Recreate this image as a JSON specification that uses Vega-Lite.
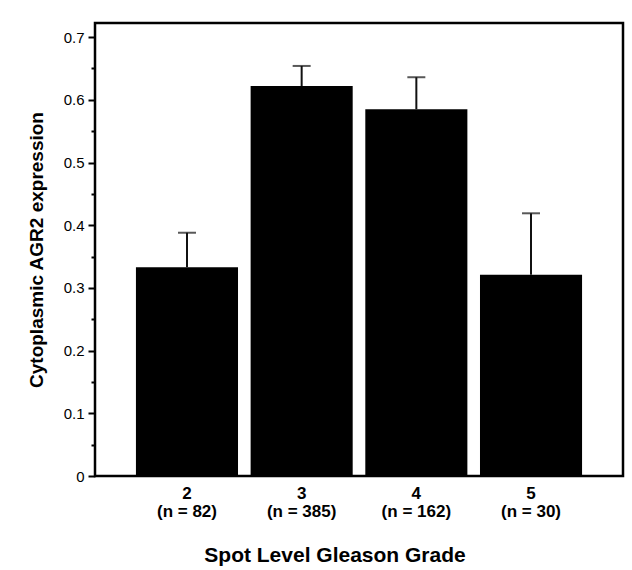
{
  "$schema": "https://vega.github.io/schema/vega-lite/v6.json",
  "width": 528,
  "height": 453,
  "autosize": "none",
  "padding": {"left": 95, "top": 23, "right": 9, "bottom": 94},
  "background": "white",
  "config": {
    "view": {"stroke": "black", "strokeWidth": 2.5},
    "font": "Liberation Sans"
  },
  "data": {
    "values": [
      {"label": "2 (n = 82)", "mean": 0.333, "upper": 0.388},
      {"label": "3 (n = 385)", "mean": 0.622, "upper": 0.654},
      {"label": "4 (n = 162)", "mean": 0.585, "upper": 0.636},
      {"label": "5 (n = 30)", "mean": 0.321, "upper": 0.419}
    ]
  },
  "encoding": {
    "x": {
      "field": "label",
      "type": "nominal",
      "sort": null,
      "scale": {"paddingInner": 0.11, "paddingOuter": 0.357},
      "axis": {
        "title": "Spot Level Gleason Grade",
        "titleFontSize": 21,
        "titleFontWeight": "bold",
        "titleColor": "black",
        "titleX": 239.5,
        "titleY": 85,
        "titleBaseline": "alphabetic",
        "titleAlign": "center",
        "labelExpr": "[slice(datum.label, 0, indexof(datum.label, ' ')), slice(datum.label, indexof(datum.label, ' ') + 1)]",
        "labelFontSize": 17,
        "labelFontWeight": "bold",
        "labelColor": "black",
        "labelAngle": 0,
        "labelPadding": 9,
        "labelLineHeight": 18,
        "ticks": false,
        "domain": false
      }
    }
  },
  "layer": [
    {
      "mark": {"type": "bar", "color": "black"},
      "encoding": {
        "y": {
          "field": "mean",
          "type": "quantitative",
          "scale": {"domain": [0, 0.7225], "nice": false},
          "axis": {
            "title": "Cytoplasmic AGR2 expression",
            "titleFontSize": 19,
            "titleFontWeight": "bold",
            "titleColor": "black",
            "titlePadding": 17,
            "values": [0, 0.05, 0.1, 0.15, 0.2, 0.25, 0.3, 0.35, 0.4, 0.45, 0.5, 0.55, 0.6, 0.65, 0.7],
            "tickCount": 30,
            "labelExpr": "round(datum.value * 20) % 2 == 0 ? format(datum.value, '.1~f') : ''",
            "labelFontSize": 15,
            "labelColor": "black",
            "labelPadding": 4,
            "labelOverlap": false,
            "tickColor": "black",
            "tickWidth": 2,
            "tickSize": 7,
            "tickDash": {"condition": {"test": "round(datum.value * 20) % 2 == 0", "value": []}, "value": [4, 20]},
            "domain": false,
            "grid": false
          }
        }
      }
    },
    {
      "mark": {"type": "rule", "color": "#111", "strokeWidth": 2},
      "encoding": {
        "y": {"field": "mean", "type": "quantitative"},
        "y2": {"field": "upper"}
      }
    },
    {
      "mark": {"type": "tick", "color": "#111", "size": 18, "thickness": 2},
      "encoding": {
        "y": {"field": "upper", "type": "quantitative"}
      }
    }
  ]
}
